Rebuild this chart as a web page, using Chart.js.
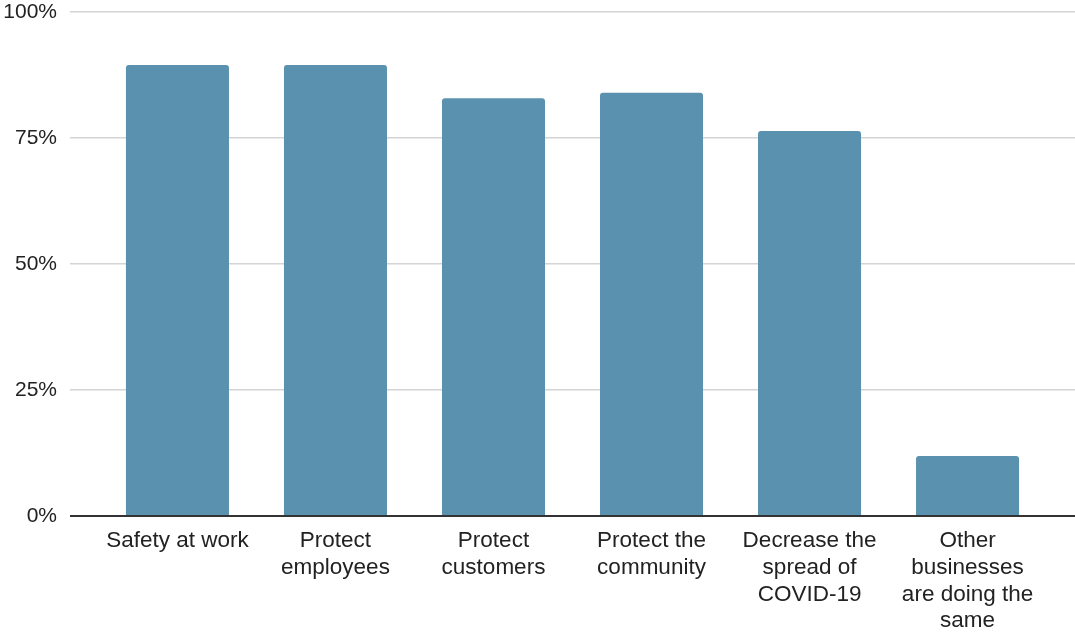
<!DOCTYPE html>
<html>
<head>
<meta charset="utf-8">
<title>Reasons</title>
<script src="https://cdn.jsdelivr.net/npm/chart.js"></script>
<style>
    html, body { margin: 0; padding: 0; background: #fff; }
    #wrap { width: 1075px; height: 634px; }
</style>
</head>
<body>
<div id="wrap"><canvas id="reasonsChart" width="1075" height="634"></canvas></div>
<script>
// Chart data
const categories = [
    ['Safety at work'],
    ['Protect', 'employees'],
    ['Protect', 'customers'],
    ['Protect the', 'community'],
    ['Decrease the', 'spread of', 'COVID-19'],
    ['Other', 'businesses', 'are doing the', 'same']
];
const shares = [89.5, 89.5, 82.9, 84.0, 76.4, 11.9];
const yTicks = [0, 25, 50, 75, 100];

const fontFamily = '"Liberation Sans", Arial, sans-serif';

const ctx = document.getElementById('reasonsChart').getContext('2d');
new Chart(ctx, {
    type: 'bar',
    data: {
        datasets: [{
            data: shares.map((v, i) => ({ x: i, y: v })),
            backgroundColor: '#5a91ae',
            borderRadius: 3,
            borderSkipped: 'bottom',
            categoryPercentage: 1,
            barPercentage: 0.652
        }]
    },
    options: {
        responsive: false,
        animation: false,
        layout: { padding: { left: 3, top: 0, right: 0, bottom: 0 } },
        plugins: {
            legend: { display: false },
            tooltip: { enabled: false }
        },
        scales: {
            x: {
                type: 'linear',
                offset: false,
                bounds: 'data',
                min: -0.68,
                max: 5.68,
                afterBuildTicks: axis => {
                    axis.ticks = categories.map((c, i) => ({ value: i }));
                },
                afterFit: axis => {
                    // labels fit inside the plot, no side padding wanted
                    axis.height = 118;
                    axis.paddingLeft = 0;
                    axis.paddingRight = 0;
                },
                grid: { display: false, drawTicks: false },
                border: { display: false },
                ticks: {
                    autoSkip: false,
                    maxRotation: 0,
                    padding: 11.5,
                    color: '#222',
                    font: { family: fontFamily, size: 22.5, lineHeight: 1.19 },
                    callback: value => categories[value]
                }
            },
            y: {
                min: 0,
                max: 100,
                afterBuildTicks: axis => {
                    axis.ticks = yTicks.map(v => ({ value: v }));
                },
                afterFit: axis => {
                    axis.width = 67;
                    axis.paddingTop = 12;
                    axis.paddingBottom = 0;
                },
                grid: {
                    drawTicks: false,
                    color: c => c.tick && c.tick.value === 0 ? '#333' : '#d4d4d4',
                    lineWidth: c => c.tick && c.tick.value === 0 ? 2 : 1.5
                },
                border: { display: false },
                ticks: {
                    padding: 13,
                    color: '#222',
                    font: { family: fontFamily, size: 21, lineHeight: 1.2 },
                    callback: v => v + '%'
                }
            }
        }
    }
});
</script>
</body>
</html>
